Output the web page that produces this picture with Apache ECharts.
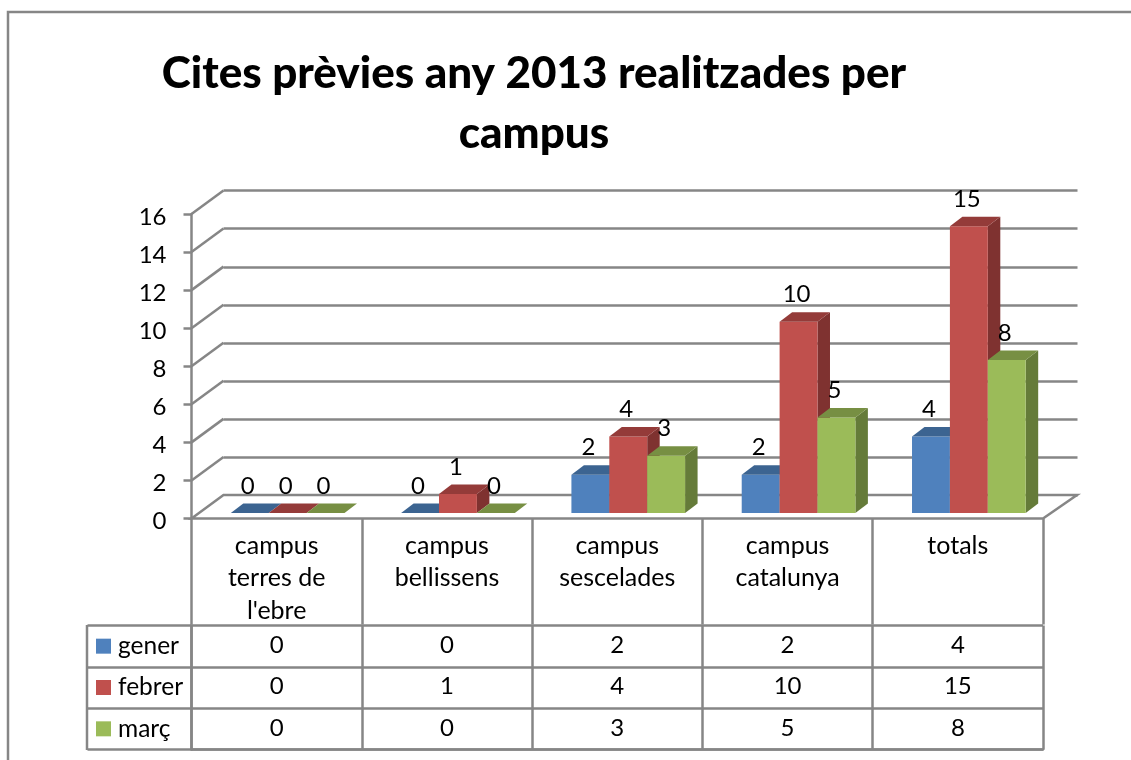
<!DOCTYPE html>
<html>
<head>
<meta charset="utf-8">
<style>html,body{margin:0;padding:0;background:#fff}#c{width:1131px;height:760px}</style>
<script src="https://cdn.jsdelivr.net/npm/echarts@6/dist/echarts.min.js"></script>
</head>
<body>
<div id="c"></div>
<script>
const categories = ["campus\nterres de\nl'ebre", "campus\nbellissens", "campus\nsescelades", "campus\ncatalunya", "totals"];
const seriesNames = ["gener", "febrer", "març"];
const gener = [0, 0, 2, 2, 4];
const febrer = [0, 1, 4, 10, 15];
const marc = [0, 0, 3, 5, 8];
const yTicks = [0, 2, 4, 6, 8, 10, 12, 14, 16];
const titleText = "Cites prèvies any 2013 realitzades per\ncampus";

const FONT = "Lato";
const LINE = "#868686";
const LW = 2.5;
const front = ["#4F81BD", "#C0504D", "#9BBB59"];
const topC = ["#3C6491", "#943B39", "#778F43"];
const sideC = ["#375A83", "#7F3230", "#657B39"];
const values = [gener, febrer, marc];

const chart = echarts.init(document.getElementById("c"), null, {renderer: "canvas"});

function barSeries(si) {
  return {
    type: "custom", name: seriesNames[si], xAxisIndex: 1, yAxisIndex: 1, z: 3 + si,
    data: values[si].map((v, i) => [i, v]),
    encode: {x: 0, y: 1},
    renderItem(params, api) {
      const cw = api.size([1, 0])[0];
      const w = cw * 0.2225;
      const base = api.coord([api.value(0), 0]);
      const top = api.coord([api.value(0), api.value(1)]);
      const x0 = base[0] - 1.5 * w + si * w, x1 = x0 + w;
      const dx = 12.5, dy = -9.5;
      const children = [];
      if (top[1] < base[1]) {
        children.push({type: "polygon", shape: {points: [[x1, top[1]], [x1 + dx, top[1] + dy], [x1 + dx, base[1] + dy], [x1, base[1]]]}, style: {fill: sideC[si]}});
        children.push({type: "rect", shape: {x: x0, y: top[1], width: w, height: base[1] - top[1]}, style: {fill: front[si]}});
      }
      children.push({type: "polygon", shape: {points: [[x0, top[1]], [x1, top[1]], [x1 + dx, top[1] + dy], [x0 + dx, top[1] + dy]]}, style: {fill: topC[si]}});
      children.push({type: "text", z2: 10, style: {text: String(api.value(1)), x: (x0 + x1) / 2 - 2, y: top[1] - 27, align: "center", verticalAlign: "middle", fill: "#000", font: "24px " + FONT}});
      return {type: "group", children};
    }
  };
}

const tableData = [];
values.forEach((row, r) => row.forEach((v, c) => tableData.push([c, r, v])));

const richLabels = {};
seriesNames.forEach((n, i) => { richLabels["s" + i] = {width: 15, height: 15, backgroundColor: front[i]}; });
richLabels.t = {fontFamily: FONT, fontSize: 24.5, color: "#000", padding: [0, 0, 0, 7]};

chart.setOption({
  backgroundColor: "#fff",
  animation: false,
  title: {
    text: titleText, left: 529, top: 39, textAlign: "center",
    textStyle: {fontFamily: FONT, fontWeight: 900, fontSize: 44, lineHeight: 60, color: "#000"}
  },
  graphic: [
    {type: "polyline", z: -1, silent: true, shape: {points: [[8, 770], [8, 12], [1131, 12]]}, style: {fill: "none", stroke: LINE, lineWidth: LW}},
    {type: "line", silent: true, shape: {x1: 87, y1: 625, x2: 87, y2: 750}, style: {stroke: LINE, lineWidth: LW}}
  ],
  grid: [
    {left: 191.5, width: 851.5, top: 214, height: 304.5},
    {left: 202.5, width: 851.5, top: 207, height: 306},
    {left: 223.5, width: 854, top: 190.5, height: 305},
    {left: 191.5, width: 851.5, top: 625.5, height: 124}
  ],
  xAxis: [
    {gridIndex: 0, type: "category", data: categories, position: "bottom",
      axisLine: {show: false},
      axisTick: {show: true, alignWithLabel: false, length: 106, lineStyle: {color: LINE, width: LW}},
      axisLabel: {interval: 0, margin: 11, fontFamily: FONT, fontSize: 25, lineHeight: 32.5, color: "#000", verticalAlign: "top"}},
    {gridIndex: 1, type: "category", data: categories, show: false},
    {gridIndex: 2, type: "category", data: categories, show: false},
    {gridIndex: 3, type: "category", data: categories, position: "bottom",
      axisLine: {show: true, lineStyle: {color: LINE, width: LW}}, axisTick: {show: false}, axisLabel: {show: false},
      splitLine: {show: true, interval: 0, lineStyle: {color: LINE, width: LW}}}
  ],
  yAxis: [
    {gridIndex: 0, type: "value", min: 0, max: 16, interval: 2,
      axisLine: {show: true, lineStyle: {color: LINE, width: LW}},
      axisTick: {show: true, length: 8, lineStyle: {color: LINE, width: LW}},
      splitLine: {show: false},
      axisLabel: {margin: 25, fontFamily: FONT, fontSize: 24, color: "#000", verticalAlign: "top", lineHeight: 6}},
    {gridIndex: 1, type: "value", min: 0, max: 16, interval: 2, show: false, splitLine: {show: false}},
    {gridIndex: 2, type: "value", min: 0, max: 16, interval: 2,
      axisLine: {show: false}, axisTick: {show: false}, axisLabel: {show: false},
      splitLine: {show: true, lineStyle: {color: LINE, width: LW}}},
    {gridIndex: 3, type: "category", data: seriesNames, inverse: true,
      axisLine: {show: true, lineStyle: {color: LINE, width: LW}},
      axisTick: {show: true, alignWithLabel: false, length: 104, lineStyle: {color: LINE, width: LW}},
      splitLine: {show: true, interval: 0, lineStyle: {color: LINE, width: LW}},
      axisLabel: {interval: 0, margin: 95.5, align: "left",
        formatter: (v, i) => "{s" + i + "|}{t|" + v + "}", rich: richLabels}}
  ],
  series: [
    {type: "custom", name: "walls", xAxisIndex: 0, yAxisIndex: 0, z: 1, silent: true,
      data: yTicks.map(v => [0, v]), encode: {y: 1},
      renderItem(params, api) {
        const cs = params.coordSys;
        const v = api.value(1);
        const y = api.coord([0, v])[1];
        const children = [];
        if (v === 0) {
          children.push({type: "polygon", shape: {points: [[cs.x, y], [cs.x + 32, y - 23.5], [cs.x + cs.width + 34, y - 23.5], [cs.x + cs.width, y]]},
            style: {fill: "#fff", stroke: LINE, lineWidth: LW}});
        } else {
          children.push({type: "line", shape: {x1: cs.x, y1: y, x2: cs.x + 32, y2: y - 23.5}, style: {stroke: LINE, lineWidth: LW}});
        }
        return {type: "group", children};
      }},
    barSeries(0), barSeries(1), barSeries(2),
    {type: "custom", name: "table", xAxisIndex: 3, yAxisIndex: 3, z: 8, silent: true,
      data: tableData, encode: {x: 0, y: 1},
      renderItem(params, api) {
        const p = api.coord([api.value(0), api.value(1)]);
        return {type: "text", style: {text: String(api.value(2)), x: p[0], y: p[1] - 1, align: "center", verticalAlign: "middle", fill: "#000", font: "24px " + FONT}};
      }}
  ]
});
</script>
</body>
</html>
